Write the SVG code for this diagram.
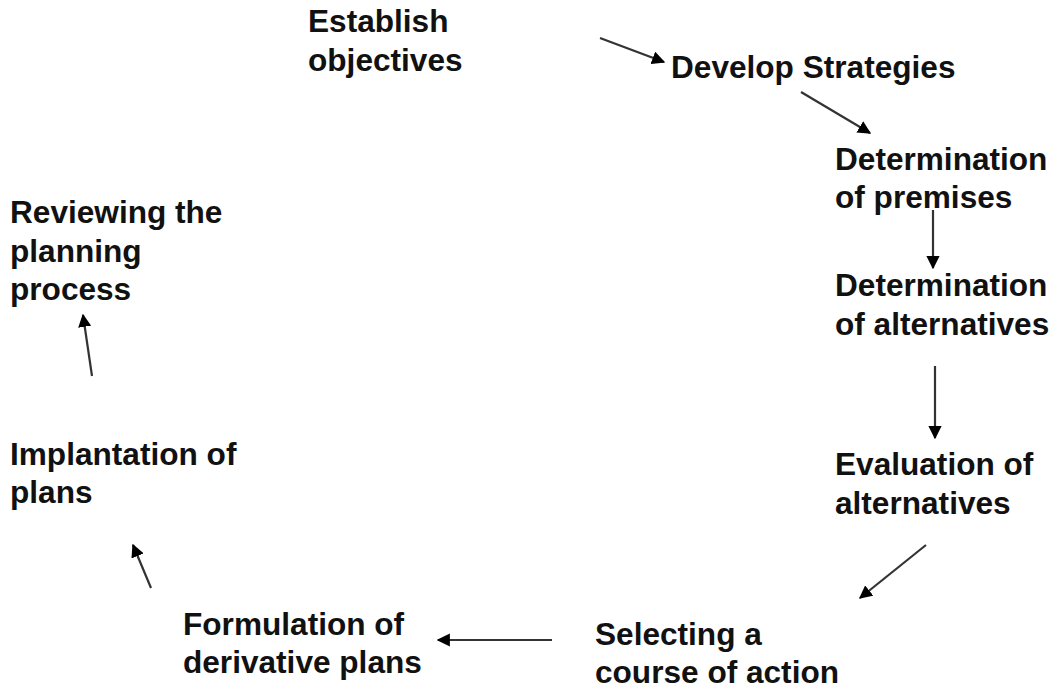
<svg xmlns="http://www.w3.org/2000/svg" width="1051" height="689" viewBox="0 0 1051 689">
  <defs>
    <marker id="head" viewBox="0 0 10 10" refX="9" refY="5" markerWidth="6" markerHeight="6" orient="auto" markerUnits="strokeWidth">
      <path d="M0,0 L10,5 L0,10 z" fill="#000"/>
    </marker>
    <style>
      .lbl { font-family: "Liberation Sans", Arial, sans-serif; font-weight: bold; font-size: 31.6px; fill: #111; }
      .arrow { stroke: #333; stroke-width: 2.2; fill: none; marker-end: url(#head); }
    </style>
  </defs>
  <rect width="1051" height="689" fill="#fff"/>

  <g id="connectors">
    <line class="arrow" x1="600" y1="38" x2="664" y2="62"/>
    <line class="arrow" x1="801" y1="92" x2="870" y2="133"/>
    <line class="arrow" x1="933" y1="210" x2="933" y2="268"/>
    <line class="arrow" x1="935" y1="366" x2="935" y2="438"/>
    <line class="arrow" x1="926" y1="545" x2="860" y2="598"/>
    <line class="arrow" x1="552" y1="640" x2="438" y2="640"/>
    <line class="arrow" x1="151" y1="588" x2="133" y2="545"/>
    <line class="arrow" x1="92" y1="376" x2="83" y2="315"/>
  </g>

  <g id="establish-objectives">
    <text class="lbl" x="308" y="32">Establish</text>
    <text class="lbl" x="308" y="71">objectives</text>
  </g>
  <g id="develop-strategies">
    <text class="lbl" x="671" y="78">Develop Strategies</text>
  </g>
  <g id="determination-premises">
    <text class="lbl" x="835" y="170">Determination</text>
    <text class="lbl" x="835" y="208">of premises</text>
  </g>
  <g id="determination-alternatives">
    <text class="lbl" x="835" y="296">Determination</text>
    <text class="lbl" x="835" y="335">of alternatives</text>
  </g>
  <g id="evaluation-alternatives">
    <text class="lbl" x="835" y="475">Evaluation of</text>
    <text class="lbl" x="835" y="514">alternatives</text>
  </g>
  <g id="selecting-course">
    <text class="lbl" x="595" y="645">Selecting a</text>
    <text class="lbl" x="595" y="683">course of action</text>
  </g>
  <g id="derivative-plans">
    <text class="lbl" x="183" y="635">Formulation of</text>
    <text class="lbl" x="183" y="673">derivative plans</text>
  </g>
  <g id="implantation-plans">
    <text class="lbl" x="10" y="465">Implantation of</text>
    <text class="lbl" x="10" y="503">plans</text>
  </g>
  <g id="reviewing-process">
    <text class="lbl" x="10" y="223">Reviewing the</text>
    <text class="lbl" x="10" y="262">planning</text>
    <text class="lbl" x="10" y="300">process</text>
  </g>
</svg>
